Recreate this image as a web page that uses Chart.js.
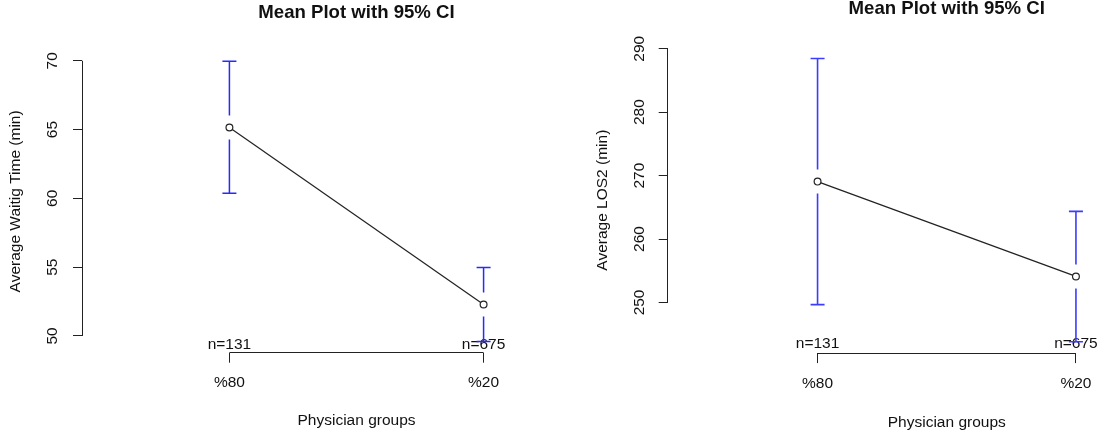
<!DOCTYPE html>
<html>
<head>
<meta charset="utf-8">
<script src="https://cdn.jsdelivr.net/npm/chart.js@4.4.1/dist/chart.umd.min.js"></script>
<style>
  html, body { margin:0; padding:0; background:#fff; width:1102px; height:434px; overflow:hidden; position:relative; }
  canvas { position:absolute; top:0; }
</style>
</head>
<body>
<canvas id="c1" width="640" height="434" style="left:0px"></canvas>
<canvas id="c2" width="680" height="434" style="left:560px"></canvas>
<script>
// ---------- data ----------
const groups = ['%80', '%20'];
const nLabels = ['n=131', 'n=675'];

const waitMean  = [65.15, 52.29];
const waitLower = [60.37, 49.60];
const waitUpper = [69.96, 54.97];
const waitTicks = [50, 55, 60, 65, 70];

const losMean  = [269.05, 254.10];
const losLower = [249.65, 243.80];
const losUpper = [288.45, 264.35];
const losTicks = [250, 260, 270, 280, 290];

const titleText = 'Mean Plot with 95% CI';
const xTitle = 'Physician groups';
const waitYTitle = 'Average Waitig Time (min)';
const losYTitle = 'Average LOS2 (min)';
// ---------------------------

const FONT = "'Liberation Sans', Arial, Helvetica, sans-serif";
const FS = 15.5;
const INK = '#111';
const LINE = '#222';

const crisp = v => Math.round(v - 0.5) + 0.5;

function makeRPlugin(p) {
  return {
    id: 'rStyle_' + p.key,
    beforeDatasetsDraw(chart) {
      const ctx = chart.ctx, xs = chart.scales.x, ys = chart.scales.y, a = chart.chartArea;
      const t = p.ticks;
      ctx.save();
      ctx.strokeStyle = LINE; ctx.lineWidth = 1;
      ctx.beginPath();
      ctx.moveTo(crisp(a.left), ys.getPixelForValue(t[0]));
      ctx.lineTo(crisp(a.left), ys.getPixelForValue(t[t.length - 1]));
      ctx.moveTo(xs.getPixelForValue(1), crisp(a.bottom));
      ctx.lineTo(xs.getPixelForValue(groups.length), crisp(a.bottom));
      ctx.stroke();
      ctx.restore();
    },
    afterDatasetsDraw(chart) {
      const ctx = chart.ctx, xs = chart.scales.x, ys = chart.scales.y, a = chart.chartArea;
      ctx.save();
      // n labels
      ctx.fillStyle = INK;
      ctx.font = FS + 'px ' + FONT;
      ctx.textAlign = 'center'; ctx.textBaseline = 'middle';
      nLabels.forEach((lab, i) => {
        ctx.fillText(lab, xs.getPixelForValue(i + 1), a.bottom - p.nOff);
      });
      // error bars (gap around the mean point, caps at CI limits)
      ctx.strokeStyle = p.barColor; ctx.lineWidth = p.bw;
      const gap = 12, cap = 7;
      p.mean.forEach((m, i) => {
        const px = xs.getPixelForValue(i + 1);
        const pm = ys.getPixelForValue(m);
        const pu = ys.getPixelForValue(p.upper[i]);
        const pl = ys.getPixelForValue(p.lower[i]);
        ctx.beginPath();
        ctx.moveTo(px, pm - gap); ctx.lineTo(px, pu);
        ctx.moveTo(px - cap, pu); ctx.lineTo(px + cap, pu);
        ctx.moveTo(px, pm + gap); ctx.lineTo(px, pl);
        ctx.moveTo(px - cap, pl); ctx.lineTo(px + cap, pl);
        ctx.stroke();
      });
      ctx.restore();
    }
  };
}

function makePanel(id, p) {
  const lo = Math.min(...p.lower), hi = Math.max(...p.upper);
  const ext = (hi - lo) * 0.04;
  const n = groups.length;
  const xExt = n * 0.04;
  new Chart(document.getElementById(id), {
    type: 'line',
    data: {
      datasets: [{
        data: p.mean.map((v, i) => ({ x: i + 1, y: v })),
        borderColor: LINE, borderWidth: 1.2,
        pointRadius: 3.4, pointBorderWidth: 1.2,
        pointBorderColor: LINE, pointBackgroundColor: '#fff',
        tension: 0
      }]
    },
    plugins: [makeRPlugin(p)],
    options: {
      responsive: false, animation: false, devicePixelRatio: 1,
      layout: { padding: { left: 0, top: 0, bottom: 0, right: p.padRight } },
      plugins: {
        legend: { display: false }, tooltip: { enabled: false },
        title: {
          display: true, fullSize: false, text: titleText, color: INK,
          font: { family: FONT, size: 18.6, weight: 'bold', lineHeight: 1 },
          padding: { top: p.titleTop, bottom: p.areaTop - p.titleTop - 18.6 }
        }
      },
      scales: {
        x: {
          type: 'linear', min: 0.5 - xExt, max: n + 0.5 + xExt,
          afterBuildTicks: s => { s.ticks = groups.map((g, i) => ({ value: i + 1 })); },
          afterFit: s => { s.height = 434 - p.areaBottom; },
          border: { display: false },
          grid: { drawOnChartArea: false, drawTicks: true, tickLength: 10, color: LINE, lineWidth: 1 },
          ticks: {
            color: INK, padding: p.xTickPad, maxRotation: 0, minRotation: 0,
            font: { family: FONT, size: FS, lineHeight: 1 },
            callback: (v, i) => groups[i]
          },
          title: {
            display: true, text: xTitle, color: INK,
            font: { family: FONT, size: FS, lineHeight: 1 },
            padding: { top: 0, bottom: p.xTitleBottom }
          }
        },
        y: {
          type: 'linear', min: lo - ext, max: hi + ext,
          afterBuildTicks: s => { s.ticks = p.ticks.map(v => ({ value: v })); },
          afterFit: s => { s.width = p.areaLeft; },
          border: { display: false },
          grid: { drawOnChartArea: false, drawTicks: true, tickLength: 9, color: LINE, lineWidth: 1 },
          ticks: {
            color: INK, padding: p.yTickPad, minRotation: 90, maxRotation: 90, crossAlign: 'center',
            font: { family: FONT, size: FS, lineHeight: 1 },
            callback: v => String(v)
          },
          title: {
            display: true, text: p.yTitle, color: INK,
            font: { family: FONT, size: FS, lineHeight: 1 },
            padding: { top: p.yTitleTop, bottom: 0 }
          }
        }
      }
    }
  });
}

makePanel('c1', {
  key: 'a',
  mean: waitMean, lower: waitLower, upper: waitUpper, ticks: waitTicks, yTitle: waitYTitle,
  areaLeft: 82, padRight: 9, areaTop: 50.1, areaBottom: 352.7,
  titleTop: 3.4, yTitleTop: 8.25, yTickPad: 11.4, xTickPad: 11.85, xTitleBottom: 5.55,
  nOff: 8.4, bw: 1.5, barColor: 'rgb(40,40,255)'
});
makePanel('c2', {
  key: 'b',
  mean: losMean, lower: losLower, upper: losUpper, ticks: losTicks, yTitle: losYTitle,
  areaLeft: 107.7, padRight: 14.2, areaTop: 47.2, areaBottom: 353.1,
  titleTop: 0, yTitleTop: 34.55, yTickPad: 5.8, xTickPad: 12.45, xTitleBottom: 3.55,
  nOff: 9, bw: 1.6, barColor: 'rgb(60,60,255)'
});
</script>
</body>
</html>
